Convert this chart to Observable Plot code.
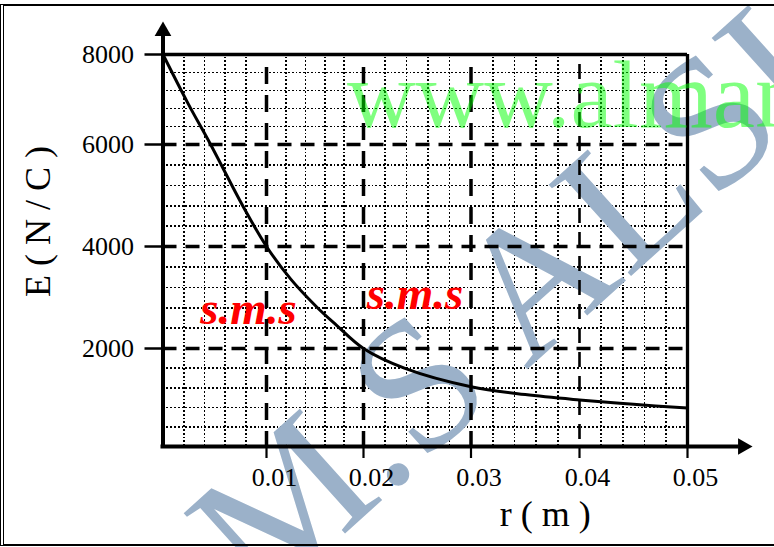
<!DOCTYPE html>
<html>
<head>
<meta charset="utf-8">
<script src="https://cdn.jsdelivr.net/npm/d3@7"></script>
<script src="https://cdn.jsdelivr.net/npm/@observablehq/plot@0.6"></script>
<style>
html, body { margin: 0; padding: 0; background: #fff; overflow: hidden; width: 774px; height: 547px; }
#wrap { position: relative; width: 774px; height: 547px; }
#border { position: absolute; left: 0; top: 4px; width: 800px; height: 538px; border-top: 2px solid #000; border-bottom: 2px solid #000; border-left: 4px double #000; pointer-events: none; }
</style>
</head>
<body>
<div id="wrap"><div id="border"></div></div>
<script>
// ---- data ----
const rValues = [0, 0.0024, 0.0046, 0.0077, 0.01, 0.0125, 0.0152, 0.0172, 0.02, 0.0238, 0.03, 0.035, 0.04, 0.045, 0.05];
const eValues = [8000, 6920, 6000, 4800, 4000, 3360, 2810, 2460, 2000, 1600, 1220, 1060, 950, 860, 786];

const xTicks = [0.01, 0.02, 0.03, 0.04, 0.05];
const yTicks = [2000, 4000, 6000, 8000];
const xDashed = [0.01, 0.02, 0.03];
const xDashedThin = [0.04];
const yDashed = [2000, 4000, 6000];

const xLabel = "r ( m )";
const yLabel = "E ( N / C )";

const smsTexts = ["s.m.s", "s.m.s"];
const smsX = [0.0036, 0.0203];
const smsY = [2770, 3060];

const siteText = "www.alman";
const siteX = 0.0183, siteY = 7060;

const wmText = "M.S ALSH";
const wmX = 0.036, wmY = 3333;

// minor dotted grid
const xMinor = d3.range(1, 25).map(i => i * 0.002).filter((d, i) => (i + 1) % 5 !== 0);
const yMinor = d3.range(1, 20).map(i => i * 400).filter((d, i) => (i + 1) % 5 !== 0);

const curveData = rValues.map((r, i) => ({r, E: eValues[i]}));
const smsData = smsTexts.map((t, i) => ({t, x: smsX[i], y: smsY[i]}));

const serif = "'Liberation Serif', 'Times New Roman', serif";
const dotted = {stroke: "#000", strokeWidth: 1.6, strokeDasharray: "1.8,2", shapeRendering: "crispEdges"};

const chart = Plot.plot({
  width: 774,
  height: 547,
  marginLeft: 162.5,
  marginRight: 87,
  marginTop: 54,
  marginBottom: 101,
  style: {fontFamily: serif, background: "transparent", color: "#000"},
  x: {type: "linear", domain: [0, 0.01, 0.02, 0.03, 0.04, 0.05], range: [162.5, 266, 363, 470.5, 579, 687], axis: null},
  y: {type: "linear", domain: [0, 2000, 4000, 6000, 8000], range: [446, 348, 246, 144, 54], axis: null},
  marks: [
    // dotted minor grid
    Plot.ruleY(yMinor, {x1: 0, x2: 0.05, ...dotted}),
    Plot.ruleX(xMinor, {y1: 0, y2: 8000, ...dotted}),
    // watermark
    Plot.text([{t: wmText, x: wmX, y: wmY}], {x: "x", y: "y", text: "t", rotate: -42, fontSize: 188, fill: "#9bb1c9", textAnchor: "middle", lineAnchor: "middle"}),
    // red labels
    Plot.text(smsData, {x: "x", y: "y", text: "t", fill: "#ff0000", fontSize: 47, fontStyle: "italic", fontWeight: "bold", textAnchor: "start", lineAnchor: "middle"}),
    // dashed major grid
    Plot.ruleY(yDashed, {x1: 0, x2: 0.05, stroke: "#000", strokeWidth: 3.5, strokeDasharray: "14,9"}),
    Plot.ruleX(xDashed, {y1: 7711, y2: 0, stroke: "#000", strokeWidth: 3.5, strokeDasharray: "17,11"}),
    Plot.ruleX(xDashedThin, {y1: 7780, y2: 0, stroke: "#000", strokeWidth: 2.6, strokeDasharray: "15,9"}),
    // curve
    Plot.line(curveData, {x: "r", y: "E", curve: "catmull-rom", stroke: "#000", strokeWidth: 3}),
    // frame top and right
    Plot.ruleY([8000], {x1: 0, x2: 0.05, stroke: "#000", strokeWidth: 3.3}),
    Plot.ruleX([0.05], {y1: 0, y2: 8000, stroke: "#000", strokeWidth: 3.3}),
    // axes lines
    Plot.ruleX([0], {y1: 0, y2: 8422, stroke: "#000", strokeWidth: 4, strokeLinecap: "square"}),
    Plot.ruleY([0], {x1: 0, x2: 0.0546, stroke: "#000", strokeWidth: 4, strokeLinecap: "square"}),
    // arrowheads
    Plot.dot([{x: 0, y: 8520}], {x: "x", y: "y", symbol: "triangle", r: 6.2, fill: "#000", stroke: "none"}),
    Plot.dot([{x: 0.05513, y: 0}], {x: "x", y: "y", symbol: "triangle", r: 6.2, rotate: 90, fill: "#000", stroke: "none"}),
    // axes ticks and labels
    Plot.axisY({ticks: yTicks, tickSize: 18, tickPadding: 11, fontSize: 26, tickFormat: d => String(d), strokeWidth: 2.5, label: null}),
    Plot.axisX({ticks: xTicks, tickSize: 12, tickFormat: () => "", strokeWidth: 2.2, label: null}),
    Plot.axisX({ticks: xTicks, tickSize: 0, tickPadding: 21, fontSize: 26, tickFormat: d3.format(".2f"), dx: 8, label: null}),
    // axis titles
    Plot.text([xLabel], {frameAnchor: "bottom", dx: 120, dy: 68, fontSize: 36, textAnchor: "middle", lineAnchor: "middle"}),
    Plot.text([yLabel], {frameAnchor: "left", dx: -125, dy: -29, rotate: -90, fontSize: 36, textAnchor: "middle", lineAnchor: "middle"}),
    // green site watermark
    Plot.text([{t: siteText, x: siteX, y: siteY}], {x: "x", y: "y", text: "t", fontSize: 95, fill: "#00ff00", fillOpacity: 0.5, textAnchor: "start", lineAnchor: "middle"})
  ]
});

document.getElementById("wrap").insertBefore(chart, document.getElementById("border"));
</script>
</body>
</html>
